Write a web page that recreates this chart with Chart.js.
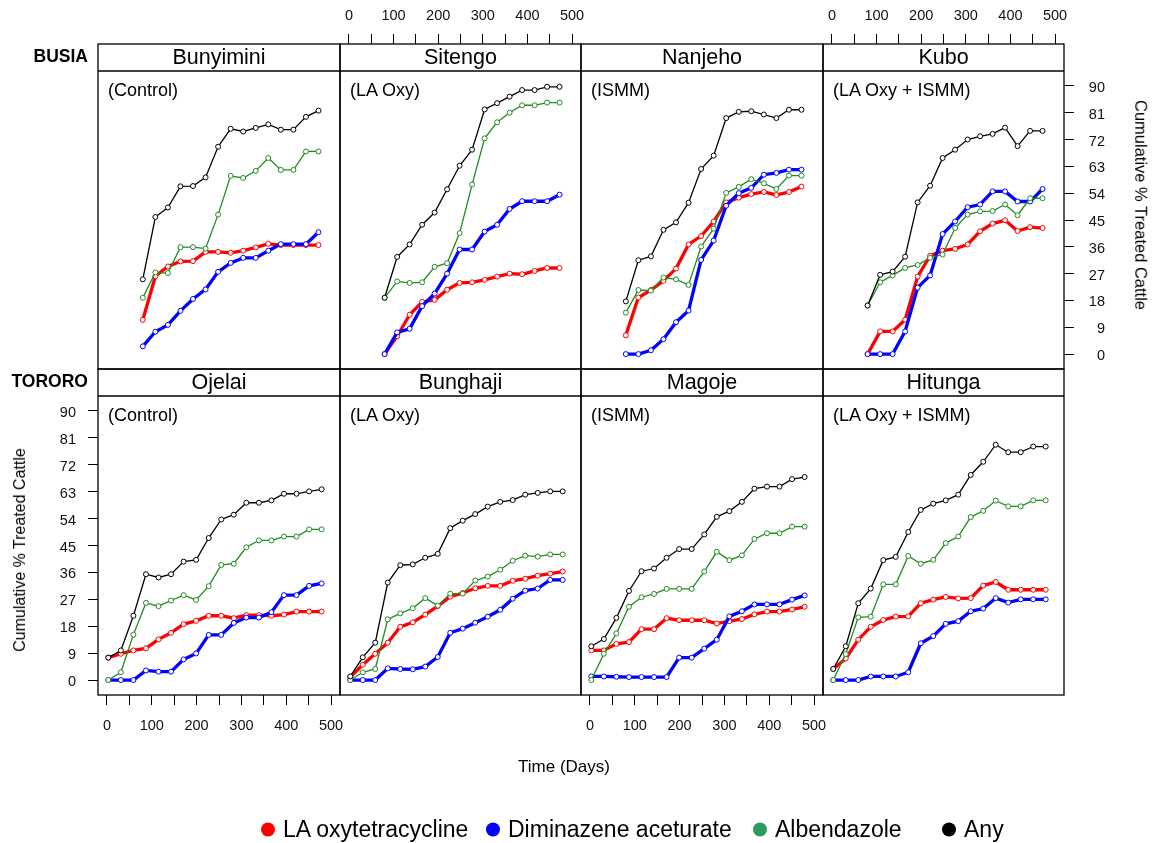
<!DOCTYPE html>
<html>
<head>
<meta charset="utf-8">
<title>Cumulative % treated cattle by village</title>
<script src="https://cdn.jsdelivr.net/npm/chart.js@4/dist/chart.umd.min.js"></script>
<style>
  html, body { margin: 0; padding: 0; background: #fff; }
  #page { position: relative; width: 1157px; height: 843px; overflow: hidden;
          font-family: "Liberation Sans", Arial, Helvetica, sans-serif; color: #000; }
  #page canvas { position: absolute; left: 0; top: 0; }
  .txt { position: absolute; white-space: nowrap; line-height: 1; }
  .strip { position: absolute; display: flex; align-items: center; justify-content: center;
           font-size: 21.5px; line-height: 1; }
  .legend-item { position: absolute; display: flex; align-items: center; font-size: 23px; white-space: nowrap; }
  .legend-dot { width: 14px; height: 14px; border-radius: 50%; margin-right: 8px; flex: none; }
</style>
</head>
<body>
<div id="page"></div>
<script>
// ---- axis ticks ----
const xTicks = [0, 50, 100, 150, 200, 250, 300, 350, 400, 450, 500];
const yTicks = [0, 9, 18, 27, 36, 45, 54, 63, 72, 81, 90];

// ---- labels ----
const districts = ['BUSIA', 'TORORO'];
const sites = ['Bunyimini', 'Sitengo', 'Nanjeho', 'Kubo', 'Ojelai', 'Bunghaji', 'Magoje', 'Hitunga'];
const arms = ['(Control)', '(LA Oxy)', '(ISMM)', '(LA Oxy + ISMM)',
              '(Control)', '(LA Oxy)', '(ISMM)', '(LA Oxy + ISMM)'];
const seriesNames = ['LA oxytetracycline', 'Diminazene aceturate', 'Albendazole', 'Any'];

// ---- visit days ----
const busiaDays = [80, 108, 136, 164, 192, 220, 248, 276, 304, 332, 360, 388, 416, 444, 472];
const tororoDays = [3, 31, 59, 87, 115, 143, 171, 199, 227, 255, 283, 311, 339, 367, 395, 423, 451, 479];

// ---- Busia villages ----
const bunyiminiOxy = [11.5, 26.1, 29.4, 31.1, 31.2, 34.3, 34.3, 34.0, 34.7, 35.8, 37.0, 36.6, 36.6, 36.6, 36.6];
const bunyiminiDim = [2.6, 7.5, 9.8, 14.5, 18.5, 21.7, 27.6, 30.6, 32.3, 32.3, 34.7, 36.9, 36.9, 36.9, 40.9];
const bunyiminiAlb = [18.9, 27.4, 27.2, 35.9, 35.9, 35.4, 46.8, 59.8, 59.1, 61.5, 65.8, 61.8, 61.8, 68.0, 68.0];
const bunyiminiAny = [25.1, 46.0, 49.2, 56.3, 56.4, 59.3, 69.6, 75.6, 74.7, 75.9, 77.1, 75.3, 75.3, 79.6, 81.7];

const sitengoOxy = [0, 6.0, 13.2, 17.5, 18.2, 21.6, 23.9, 24.1, 24.9, 26.0, 27.0, 26.8, 27.9, 28.9, 28.9];
const sitengoDim = [0, 7.3, 8.5, 16.1, 20.3, 27.0, 35.1, 35.1, 41.1, 43.4, 48.7, 51.3, 51.3, 51.3, 53.5];
const sitengoAlb = [18.9, 24.4, 23.9, 24.1, 29.3, 30.5, 40.6, 56.9, 72.4, 77.8, 81.0, 83.5, 83.5, 84.4, 84.4];
const sitengoAny = [18.9, 32.6, 36.8, 43.4, 47.5, 55.3, 63.2, 68.6, 82.1, 84.2, 86.4, 88.6, 88.6, 89.7, 89.7];

const nanjehoOxy = [6.3, 19.0, 21.5, 24.6, 28.7, 36.8, 39.6, 44.5, 50.9, 52.5, 53.7, 54.4, 53.4, 54.4, 56.2];
const nanjehoDim = [0, 0, 1.3, 5.0, 10.7, 14.6, 31.6, 38.1, 49.8, 54.0, 55.8, 60.2, 60.8, 61.9, 61.9];
const nanjehoAlb = [13.9, 21.5, 21.3, 25.7, 25.1, 23.2, 36.1, 42.1, 54.1, 56.1, 58.7, 57.3, 55.4, 59.9, 59.9];
const nanjehoAny = [17.7, 31.5, 32.8, 41.7, 44.2, 50.8, 62.1, 66.6, 79.2, 81.3, 81.5, 80.4, 79.2, 82.0, 82.0];

const kuboOxy = [0, 7.6, 7.6, 11.5, 26.0, 33.0, 34.7, 35.3, 36.8, 41.2, 43.8, 44.9, 41.3, 42.6, 42.3];
const kuboDim = [0, 0, 0, 7.6, 22.3, 26.4, 40.3, 44.5, 49.3, 50.2, 54.6, 54.6, 51.2, 51.2, 55.4];
const kuboAlb = [16.3, 24.1, 26.4, 28.9, 29.9, 32.3, 33.4, 42.3, 46.8, 47.9, 48.0, 50.2, 46.6, 52.3, 52.3];
const kuboAny = [16.3, 26.6, 27.7, 32.7, 50.9, 56.5, 65.8, 68.6, 72.0, 73.1, 73.9, 76.0, 69.8, 74.9, 74.9];

// ---- Tororo villages ----
const ojelaiOxy = [7.5, 8.8, 9.9, 10.6, 13.6, 15.8, 18.7, 19.8, 21.5, 21.5, 20.7, 21.7, 21.7, 21.5, 21.9, 22.9, 22.9, 22.9];
const ojelaiDim = [0, 0, 0, 3.2, 2.8, 2.8, 6.9, 8.9, 15.1, 15.1, 19.1, 20.9, 20.9, 22.7, 28.4, 28.4, 31.5, 32.3];
const ojelaiAlb = [0, 2.6, 15.2, 25.8, 24.7, 26.6, 28.4, 26.8, 31.4, 38.5, 38.9, 44.4, 46.7, 46.7, 48.0, 48.0, 50.4, 50.4];
const ojelaiAny = [7.5, 9.9, 21.5, 35.4, 34.3, 35.4, 39.6, 40.2, 47.5, 53.7, 55.3, 59.3, 59.3, 60.1, 62.3, 62.3, 63.1, 63.8];

const bunghajiOxy = [1.0, 5.1, 8.8, 12.5, 17.8, 19.3, 21.9, 24.7, 27.9, 29.1, 30.7, 31.5, 31.5, 33.2, 33.9, 34.9, 35.6, 36.3];
const bunghajiDim = [0, 0, 0, 3.9, 3.7, 3.6, 4.5, 7.7, 15.8, 17.2, 19.2, 21.2, 23.5, 27.2, 29.9, 30.6, 33.5, 33.5];
const bunghajiAlb = [0, 2.6, 3.7, 20.3, 22.3, 24.0, 27.4, 24.9, 28.9, 28.9, 33.3, 34.6, 36.9, 39.9, 41.6, 41.3, 42.0, 42.0];
const bunghajiAny = [1.2, 7.6, 12.5, 32.6, 38.4, 38.7, 40.9, 42.2, 50.8, 53.3, 55.5, 58.0, 59.6, 60.2, 62.0, 62.6, 63.1, 63.1];

const magojeOxy = [9.9, 9.9, 12.1, 12.7, 17.0, 17.0, 20.7, 20.0, 20.0, 20.0, 18.9, 19.7, 20.4, 22.0, 22.9, 22.9, 23.6, 24.5];
const magojeDim = [1.2, 1.2, 1.1, 1.0, 1.0, 1.0, 1.0, 7.5, 7.5, 10.5, 13.5, 21.3, 23.0, 25.3, 25.3, 25.3, 26.9, 28.3];
const magojeAlb = [0, 8.8, 15.6, 24.5, 27.7, 28.8, 30.5, 30.5, 30.5, 36.3, 42.9, 40.1, 41.7, 47.2, 49.1, 49.1, 51.3, 51.3];
const magojeAny = [11.3, 13.7, 20.8, 29.8, 36.4, 37.3, 40.9, 43.8, 43.8, 48.7, 54.6, 56.5, 59.6, 64.0, 64.7, 64.7, 67.2, 67.9];

const hitungaOxy = [3.7, 7.2, 13.5, 17.8, 20.1, 21.2, 21.3, 25.7, 26.9, 27.8, 27.3, 27.4, 31.6, 32.8, 30.2, 30.2, 30.2, 30.2];
const hitungaDim = [0, 0, 0, 1.2, 1.2, 1.2, 2.6, 12.3, 14.7, 18.8, 19.7, 23.0, 23.9, 27.4, 25.9, 27.0, 27.0, 27.0];
const hitungaAlb = [0, 8.7, 21.0, 21.2, 32.0, 32.0, 41.5, 38.9, 40.2, 45.8, 48.0, 54.5, 56.6, 60.0, 58.1, 58.1, 60.1, 60.1];
const hitungaAny = [3.7, 11.3, 25.7, 30.6, 40.1, 41.2, 49.5, 56.9, 59.0, 60.1, 62.0, 68.6, 73.0, 78.7, 76.2, 76.2, 78.1, 78.1];

// ---- panel table (order: Busia row, then Tororo row) ----
const panelData = [
  [busiaDays, bunyiminiOxy, bunyiminiDim, bunyiminiAlb, bunyiminiAny],
  [busiaDays, sitengoOxy, sitengoDim, sitengoAlb, sitengoAny],
  [busiaDays, nanjehoOxy, nanjehoDim, nanjehoAlb, nanjehoAny],
  [busiaDays, kuboOxy, kuboDim, kuboAlb, kuboAny],
  [tororoDays, ojelaiOxy, ojelaiDim, ojelaiAlb, ojelaiAny],
  [tororoDays, bunghajiOxy, bunghajiDim, bunghajiAlb, bunghajiAny],
  [tororoDays, magojeOxy, magojeDim, magojeAlb, magojeAny],
  [tororoDays, hitungaOxy, hitungaDim, hitungaAlb, hitungaAny]
];

// ---- layout and styling ----
const W = 1157, H = 843;
const COLS = [98, 340, 581, 823, 1064];
const ROWS = [44, 369, 695];
const STRIP = 27;
const X_MIN = -20, X_MAX = 520, Y_MIN = -5, Y_MAX = 95;
const TICK_LEN = 10;
const LEFT_W = 98, RIGHT_W = 41, TOP_H = 44, BOTTOM_H = 60;
const FONT = '"Liberation Sans", Arial, Helvetica, sans-serif';
const lineStyles = [
  { color: '#ff0000', width: 3.3 },
  { color: '#0000ff', width: 3.3 },
  { color: '#1f8c1f', width: 1.3 },
  { color: '#000000', width: 1.3 }
];
const legendColors = ['#ff0000', '#0000ff', '#2e9a62', '#000000'];

const page = document.getElementById('page');

function addText(text, css, cls) {
  const d = document.createElement('div');
  d.className = cls || 'txt';
  d.textContent = text;
  Object.assign(d.style, css);
  page.appendChild(d);
  return d;
}

// frame around each panel with the strip separator
const panelFrame = {
  id: 'panelFrame',
  afterDraw(chart) {
    const { left, top, right, bottom } = chart.chartArea;
    const ctx = chart.ctx;
    ctx.save();
    ctx.strokeStyle = '#000';
    ctx.lineWidth = 1.3;
    ctx.strokeRect(left, top, right - left, bottom - top);
    ctx.beginPath();
    ctx.moveTo(left, top + STRIP);
    ctx.lineTo(right, top + STRIP);
    ctx.stroke();
    ctx.restore();
  }
};

function tickFont() { return { family: FONT, size: 14.5 }; }

panelData.forEach((p, i) => {
  const col = i % 4, row = Math.floor(i / 4);
  const L = COLS[col], R = COLS[col + 1], T = ROWS[row], B = ROWS[row + 1];
  const plotH = B - T - STRIP;
  const yTop = Y_MAX + STRIP * (Y_MAX - Y_MIN) / plotH;
  const showTop = row === 0 && col % 2 === 1;
  const showBottom = row === 1 && col % 2 === 0;
  const showLeft = row === 1 && col === 0;
  const showRight = row === 0 && col === 3;

  const canvas = document.createElement('canvas');
  canvas.width = W; canvas.height = H;
  page.appendChild(canvas);

  const days = p[0];
  const datasets = [1, 2, 3, 4].map((k) => {
    const st = lineStyles[k - 1];
    return {
      label: seriesNames[k - 1],
      data: days.map((d, j) => ({ x: d, y: p[k][j] })),
      borderColor: st.color,
      borderWidth: st.width,
      pointRadius: 2.5,
      pointBorderWidth: 1,
      pointBorderColor: st.color,
      pointBackgroundColor: '#ffffff',
      tension: 0,
      order: 5 - k
    };
  });

  new Chart(canvas, {
    type: 'line',
    data: { datasets },
    options: {
      responsive: false,
      animation: false,
      events: [],
      layout: {
        padding: {
          left: showLeft ? L - LEFT_W : L,
          right: showRight ? W - R - RIGHT_W : W - R,
          top: showTop ? T - TOP_H : T,
          bottom: showBottom ? H - B - BOTTOM_H : H - B
        }
      },
      plugins: { legend: { display: false }, tooltip: { enabled: false } },
      scales: {
        x: {
          type: 'linear', min: X_MIN, max: X_MAX,
          position: showTop ? 'top' : 'bottom',
          display: showTop || showBottom,
          afterBuildTicks: (a) => { a.ticks = xTicks.map((v) => ({ value: v })); },
          afterFit: (a) => { if (showTop) a.height = TOP_H; else if (showBottom) a.height = BOTTOM_H; },
          grid: { drawOnChartArea: false, drawTicks: true, tickLength: TICK_LEN, color: '#000', lineWidth: 1 },
          border: { display: false },
          ticks: {
            autoSkip: false, maxRotation: 0, minRotation: 0, padding: showTop ? 9 : 12,
            color: '#111', font: tickFont(),
            callback: (v) => (v % 100 === 0 ? String(v) : '')
          }
        },
        y: {
          type: 'linear', min: Y_MIN, max: yTop,
          position: showRight ? 'right' : 'left',
          display: showLeft || showRight,
          afterBuildTicks: (a) => { a.ticks = yTicks.map((v) => ({ value: v })); },
          afterFit: (a) => { if (showLeft) a.width = LEFT_W; else if (showRight) a.width = RIGHT_W; },
          grid: { drawOnChartArea: false, drawTicks: true, tickLength: TICK_LEN, color: '#000', lineWidth: 1 },
          border: { display: false },
          ticks: {
            autoSkip: false, padding: 12, labelOffset: 2, color: '#111', font: tickFont(),
            crossAlign: showRight ? 'far' : 'near',
            callback: (v) => String(v)
          }
        }
      }
    },
    plugins: [panelFrame]
  });

  // strip with the village name
  addText(sites[i], { left: L + 'px', top: T + 'px', width: (R - L) + 'px', height: STRIP + 'px' }, 'strip');
  // study arm note
  addText(arms[i], { left: (L + 10) + 'px', top: (T + STRIP + 10) + 'px', fontSize: '18px' });
});

// district labels
addText(districts[0], { right: (W - 88) + 'px', top: '57px', fontSize: '17.5px', fontWeight: 'bold',
  transform: 'translateY(-50%)' });
addText(districts[1], { right: (W - 88) + 'px', top: '382px', fontSize: '17.5px', fontWeight: 'bold',
  transform: 'translateY(-50%)' });

// axis titles
addText('Time (Days)', { left: '564px', top: '766px', fontSize: '17px', transform: 'translate(-50%,-50%)' });
addText('Cumulative % Treated Cattle', { left: '20px', top: '550px', fontSize: '16px',
  transform: 'translate(-50%,-50%) rotate(-90deg)' });
addText('Cumulative % Treated Cattle', { left: '1141px', top: '205px', fontSize: '16.5px',
  transform: 'translate(-50%,-50%) rotate(90deg)' });

// legend
const legendLeft = [261, 486, 753, 942];
seriesNames.forEach((name, k) => {
  const item = document.createElement('div');
  item.className = 'legend-item';
  item.style.left = legendLeft[k] + 'px';
  item.style.top = '829px';
  item.style.transform = 'translateY(-50%)';
  const dot = document.createElement('span');
  dot.className = 'legend-dot';
  dot.style.background = legendColors[k];
  const label = document.createElement('span');
  label.textContent = name;
  item.appendChild(dot);
  item.appendChild(label);
  page.appendChild(item);
});
</script>
</body>
</html>
